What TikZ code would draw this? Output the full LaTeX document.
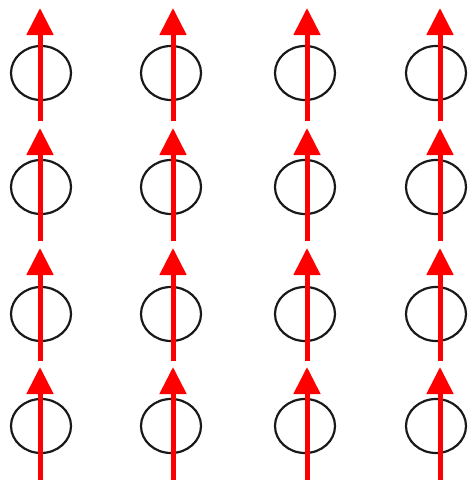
\documentclass[tikz,border=0pt]{standalone}
\usepackage{tikz}
\usetikzlibrary{arrows.meta,shapes.geometric}
\colorlet{spinRed}{red}
\colorlet{siteBlack}{black!90}
\tikzset{
  % lattice site
  site/.style={
    ellipse,
    draw=siteBlack,
    line width=2.2pt,
    minimum width=60pt,
    minimum height=54pt,
    inner sep=0pt
  },
  % spin moment, all pointing up
  spin/.style={
    -{Triangle[length=27pt,width=26pt]},
    line width=5pt,
    draw=spinRed
  }
}
\begin{document}
\begin{tikzpicture}[x=1pt,y=-1pt]
\useasboundingbox (0,0) rectangle (467,483);

\foreach \c/\x/\ax in {1/41/40,2/171/173,3/305/307,4/436/440}{
  \foreach \r/\y/\t in {1/73/8,2/187/128,3/314/248,4/426/367}{
    \node[site] (site\c\r) at (\x,\y) {};
    \coordinate (tail\c\r) at (\ax,\t+113);
    \coordinate (head\c\r) at (\ax,\t);
    \draw[spin] (tail\c\r) -- (head\c\r);
  }
}

\end{tikzpicture}
\end{document}
